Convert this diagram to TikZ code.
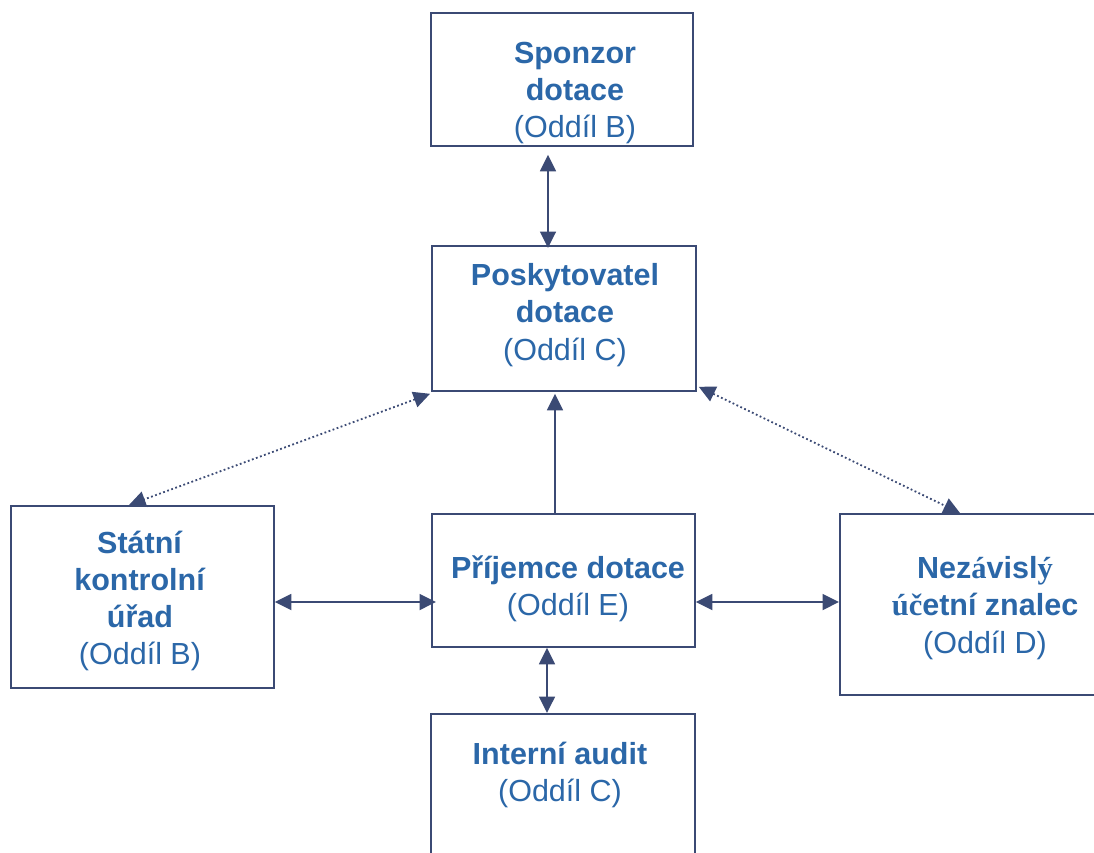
\documentclass[tikz,border=0pt]{standalone}
\usepackage{fontspec}
\setmainfont{Liberation Sans}
\newfontfamily\serifb{Liberation Serif}
\usetikzlibrary{arrows.meta,calc}
\definecolor{boxc}{HTML}{3B4A74}
\definecolor{txtc}{HTML}{2B67A8}
\tikzset{
  box/.style={draw=boxc, line width=1.8pt, rectangle, inner sep=0pt, anchor=north west},
  lbl/.style={text=txtc, align=center, font=\fontsize{30.5}{37.3}\selectfont, inner sep=0pt},
  tipA/.tip={Triangle[length=16.5pt,width=16pt]},
  arr/.style={draw=boxc, line width=1.8pt, tipA-tipA},
  uparr/.style={draw=boxc, line width=1.8pt, -tipA},
  dotarr/.style={draw=boxc, line width=1.8pt, dash pattern=on 1.8pt off 2.5pt, tipA-tipA},
}
\begin{document}
\begin{tikzpicture}[x=1pt,y=-1pt]
\useasboundingbox (0,0) rectangle (1094,852);
% boxes
\node[box, minimum width=262pt, minimum height=133pt] (spon) at (430,12) {};
\node[box, minimum width=264pt, minimum height=145pt] (posk) at (431,245) {};
\node[box, minimum width=263pt, minimum height=182pt] (stat) at (10,505) {};
\node[box, minimum width=263pt, minimum height=133pt] (prij) at (431,513) {};
\node[box, minimum width=270pt, minimum height=181pt] (nez) at (839,513) {};
\node[box, minimum width=264pt, minimum height=170pt] (int) at (430,713) {};
% texts
\node[lbl] (sponT) at (575,93) {\textbf{Sponzor}\\\textbf{dotace}\\(Oddíl B)};
\node[lbl] (poskT) at (565,315) {\textbf{Poskytovatel}\\\textbf{dotace}\\(Oddíl C)};
\node[lbl] (statT) at (140,601) {\textbf{Státní}\\\textbf{kontrolní}\\\textbf{úřad}\\(Oddíl B)};
\node[lbl] (prijT) at (568,589) {\textbf{Příjemce dotace}\\(Oddíl E)};
\node[lbl] (nezT) at (985,608) {\textbf{Nez{\serifb á}visl{\serifb ý}}\\\textbf{{\serifb úč}etní znalec}\\(Oddíl D)};
\node[lbl] (intT) at (560,775) {\textbf{Interní audit}\\(Oddíl C)};
% connectors
\draw[arr] ($(spon.south west)+(118,8)$) -- ($(posk.north west)+(117,3)$);
\draw[uparr] ($(prij.north west)+(124,0)$) -- ($(posk.south west)+(124,2)$);
\draw[dotarr] ($(posk.south west)+(-1,2)$) -- ($(stat.north west)+(119,0)$);
\draw[dotarr] ($(posk.south east)+(2,-5)$) -- ($(nez.north west)+(121,0)$);
\draw[arr] (stat.east |- 0,602) -- ($(prij.west |- 0,602)+(5,0)$);
\draw[arr] (prij.east |- 0,602) -- (nez.west |- 0,602);
\draw[arr] ($(prij.south west)+(116,0)$) -- ($(int.north west)+(117,0)$);
\end{tikzpicture}
\end{document}
